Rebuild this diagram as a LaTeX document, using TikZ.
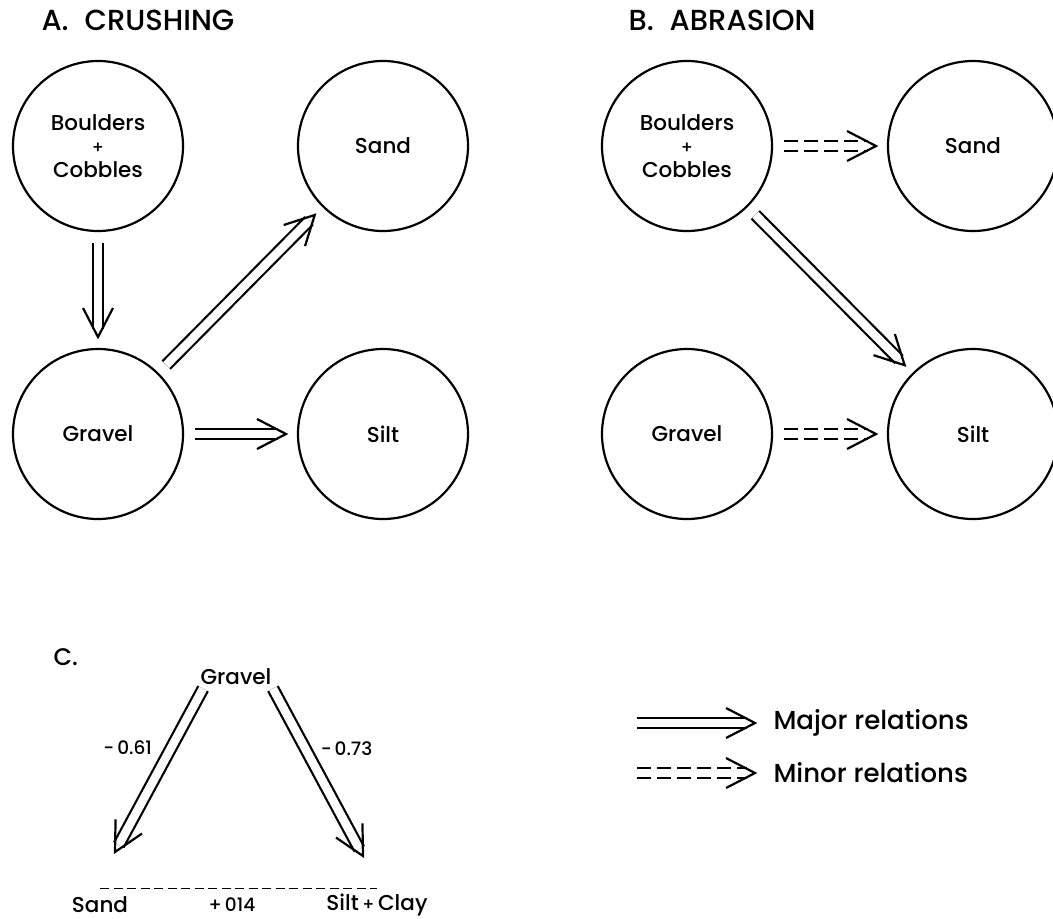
\documentclass[tikz,border=0pt]{standalone}
\usepackage{fontspec}
\setmainfont{Poppins Medium}
\usetikzlibrary{decorations.markings}

\tikzset{
  stock/.style={circle, draw, line width=2.2pt, minimum size=170pt, inner sep=0pt,
    outer sep=12pt, align=center, font=\fontsize{21.5}{23.5}\selectfont},
  vhead/.style={postaction={decorate}, decoration={markings,
    mark=at position 1 with {\draw[solid, shorten >=0pt, shorten <=0pt, line width=2.2pt]
      (-29,15) -- (0,0) -- (-29,-15);}}},
  major/.style={double, double distance=8.5pt, line width=2.2pt, shorten >=8pt, vhead},
  minor/.style={major, dash pattern=on 14pt off 6pt},
  rline/.style={line width=1.8pt, dash pattern=on 9pt off 4.5pt},
  title/.style={anchor=west, font=\fontsize{29}{31}\selectfont},
  key/.style={anchor=west, font=\fontsize{26}{28}\selectfont},
  lbl/.style={font=\fontsize{21.5}{23.5}\selectfont},
  coef/.style={font=\fontsize{18.5}{20}\selectfont},
}
\newcommand{\plus}{{\fontsize{17}{23.5}\selectfont+}}

\begin{document}
\begin{tikzpicture}[x=1pt, y=-1pt]
\useasboundingbox (0,0) rectangle (1053,919);

% A. crushing
\node[title] (tA) at (38,20) {A.\hspace{0.55em}CRUSHING};
\node[stock] (bcA) at (98,146) {Boulders\\\plus\\Cobbles};
\node[stock] (sdA) at (383,146) {Sand};
\node[stock] (gvA) at (98,434) {Gravel};
\node[stock] (stA) at (383,434) {Silt};
\draw[major] (bcA) -- (gvA);
\draw[major] (gvA) -- (sdA);
\draw[major] (gvA) -- (stA);

% B. abrasion
\node[title] (tB) at (625,20) {B.\hspace{0.55em}ABRASION};
\node[stock] (bcB) at (687,146) {Boulders\\\plus\\Cobbles};
\node[stock] (sdB) at (973,146) {Sand};
\node[stock] (gvB) at (687,434) {Gravel};
\node[stock] (stB) at (973,434) {Silt};
\draw[minor] (bcB) -- (sdB);
\draw[major] (bcB) -- (stB);
\draw[minor] (gvB) -- (stB);

% C. correlations
\node[title, font=\fontsize{24}{26}\selectfont] (tC) at (50,657) {C.};
\node[lbl] (gvC) at (236,677) {Gravel};
\node[lbl] (sdC) at (100,905) {Sand};
\node[lbl] (scC) at (377,905) {Silt\,\plus\,Clay};
\node[coef] (rC) at (232,905) {+\,014};
\coordinate (sdTip) at (115,852);
\coordinate (scTip) at (363,856);
\draw[major] ([xshift=6pt]gvC.south west) -- (sdTip)
  node[coef, pos=0.36, left=15pt] (rSd) {-\,0.61};
\draw[major] ([xshift=-2pt]gvC.south east) -- (scTip)
  node[coef, pos=0.36, right=11pt] (rSc) {-\,0.73};
\coordinate (rl) at ([yshift=5pt]sdC.north);
\draw[rline] (rl) -- (rl -| scC);

% key
\node[key] (majL) at (770,723) {Major relations};
\node[key] (minL) at (770,773) {Minor relations};
\coordinate (majS) at (637,723);
\coordinate (minS) at (637,773);
\draw[major] (majS) -- ([xshift=-15pt]majL.west);
\draw[minor] (minS) -- ([xshift=-15pt]minL.west);
\end{tikzpicture}
\end{document}
